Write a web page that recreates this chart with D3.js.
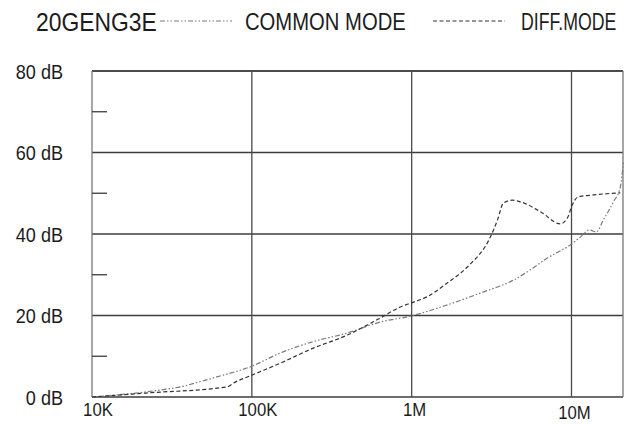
<!DOCTYPE html>
<html>
<head>
<meta charset="utf-8">
<script src="https://cdn.jsdelivr.net/npm/d3@7"></script>
<style>
  body { margin: 0; background: #fff; }
  text { font-family: "Liberation Sans", Arial, sans-serif; fill: #1c1c1c; }
</style>
</head>
<body>
<svg id="chart" width="636" height="424"></svg>
<script>
// Conducted emission curves, frequency in Hz, level in dB

const title = '20GENG3E';
const series_names = ['COMMON MODE', 'DIFF.MODE'];

// common mode (dash dot dot)
const common_freq = [1e4, 22.2e3, 35.7e3, 57.4e3, 100.7e3, 150.7e3, 242.7e3, 396e3, 637e3, 995e3,
    1.67e6, 2.69e6, 4.34e6, 5.53e6, 7.06e6, 9.98e6, 11.4e6, 12.9e6, 14.3e6, 15.8e6, 18.3e6, 20.2e6, 21.1e6];
const common_db = [0, 1.3, 2.5, 4.7, 7.6, 10.8, 13.6, 15.7, 18.4, 19.9,
    22.6, 25.5, 28.7, 31.2, 34.1, 37.5, 39.3, 41.0, 40.5, 43.4, 47.9, 51.5, 57.5];

// differential mode (dashed)
const diff_freq = [1e4, 22.2e3, 70.3e3, 76.6e3, 100.7e3, 150.7e3, 242.7e3, 396e3, 637e3, 850e3,
    995e3, 1.25e6, 1.67e6, 2.23e6, 3.11e6, 3.44e6, 3.75e6, 4.27e6, 4.79e6, 6.38e6, 8.51e6,
    9.42e6, 10.1e6, 11.0e6, 13.7e6, 20.2e6];
const diff_db = [0, 1.0, 2.5, 3.4, 5.4, 8.3, 12.0, 15.2, 19.4, 22.1,
    23.1, 24.6, 28.0, 31.9, 39.3, 43.4, 47.6, 48.3, 47.9, 45.5, 42.5,
    43.9, 47.1, 49.1, 49.6, 50.1];

const x_ticks = [1e4, 1e5, 1e6, 1e7];
const x_tick_labels = ['10K', '100K', '1M', '10M'];
const y_ticks = [0, 20, 40, 60, 80];
const y_minor_ticks = [10, 30, 50, 70];

// narrow the glyphs a bit, the original font is condensed
function squeeze(sel, k) {
    sel.each(function () {
        const w = this.getComputedTextLength();
        d3.select(this).attr('textLength', w * k).attr('lengthAdjust', 'spacingAndGlyphs');
    });
}

const svg = d3.select('#chart');

const x = d3.scaleLog().domain([1e4, 2.1e7]).range([92, 623]);
const y = d3.scaleLinear().domain([0, 80]).range([397, 71]);

const grid = svg.append('g').attr('stroke', '#3c3c3c').attr('stroke-width', 1.3);

// horizontal grid lines
grid.selectAll('line.h')
    .data(y_ticks)
    .enter()
    .append('line')
    .attr('x1', x.range()[0])
    .attr('x2', x.range()[1])
    .attr('y1', d => y(d))
    .attr('y2', d => y(d))
    .attr('stroke', d => d === 80 ? '#111' : '#3c3c3c');

// vertical grid lines (10K is the left axis)
grid.selectAll('line.v')
    .data(x_ticks.concat([x.domain()[1]]))
    .enter()
    .append('line')
    .attr('x1', d => x(d))
    .attr('x2', d => x(d))
    .attr('y1', y(0))
    .attr('y2', y(80))
    .attr('stroke', (d, i) => i === 0 || i === 4 ? '#777' : '#4a4a4a');

// short minor ticks on the left
grid.selectAll('line.m')
    .data(y_minor_ticks)
    .enter()
    .append('line')
    .attr('x1', x.range()[0])
    .attr('x2', x.range()[0] + 15)
    .attr('y1', d => y(d))
    .attr('y2', d => y(d));

// y labels
svg.selectAll('text.ylab')
    .data(y_ticks)
    .enter()
    .append('text')
    .attr('class', 'ylab')
    .attr('x', 63)
    .attr('y', d => y(d) + 7.5)
    .attr('text-anchor', 'end')
    .attr('font-size', 21)
    .text(d => d + ' dB')
    .call(squeeze, 0.86);

// x labels, the last one sits a bit lower
svg.selectAll('text.xlab')
    .data(x_ticks)
    .enter()
    .append('text')
    .attr('class', 'xlab')
    .attr('x', (d, i) => x(d) + (i < 2 ? 6 : 3))
    .attr('y', (d, i) => i === 3 ? 419 : 416)
    .attr('text-anchor', 'middle')
    .attr('font-size', 19)
    .text((d, i) => x_tick_labels[i])
    .call(squeeze, 0.88);

const line = d3.line()
    .x(d => x(d[0]))
    .y(d => y(d[1]))
    .curve(d3.curveMonotoneX);

const common_pts = common_freq.map((f, i) => [f, common_db[i]]);
const diff_pts = diff_freq.map((f, i) => [f, diff_db[i]]);

const common_style = { stroke: '#7a7a7a', dash: '5,2,1.5,2,1.5,2' };
const diff_style = { stroke: '#333', dash: '4,2.5' };

svg.append('path')
    .datum(common_pts)
    .attr('d', line)
    .attr('fill', 'none')
    .attr('stroke', common_style.stroke)
    .attr('stroke-width', 1.2)
    .attr('stroke-dasharray', common_style.dash);

svg.append('path')
    .datum(diff_pts)
    .attr('d', line)
    .attr('fill', 'none')
    .attr('stroke', diff_style.stroke)
    .attr('stroke-width', 1.2)
    .attr('stroke-dasharray', diff_style.dash);

// title and legend
svg.append('text')
    .attr('x', 36)
    .attr('y', 31)
    .attr('font-size', 26)
    .text(title)
    .call(squeeze, 0.88);

svg.append('line')
    .attr('x1', 160).attr('x2', 232)
    .attr('y1', 21).attr('y2', 21)
    .attr('stroke', common_style.stroke)
    .attr('stroke-width', 1.2)
    .attr('stroke-dasharray', common_style.dash);

svg.append('text')
    .attr('x', 245)
    .attr('y', 30)
    .attr('font-size', 23)
    .text(series_names[0])
    .call(squeeze, 0.88);

svg.append('line')
    .attr('x1', 433).attr('x2', 505)
    .attr('y1', 21).attr('y2', 21)
    .attr('stroke', diff_style.stroke)
    .attr('stroke-width', 1.2)
    .attr('stroke-dasharray', diff_style.dash);

// this one is packed tighter in the original
svg.append('text')
    .attr('transform', 'translate(521,30) scale(0.77,1)')
    .attr('font-size', 23)
    .text(series_names[1]);
</script>
</body>
</html>
